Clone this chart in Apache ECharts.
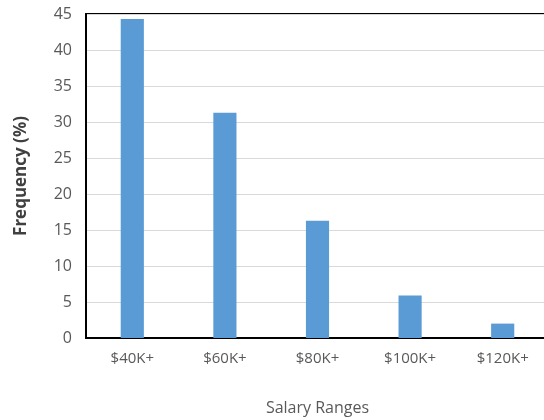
<!DOCTYPE html>
<html>
<head>
<meta charset="utf-8">
<script src="https://cdn.jsdelivr.net/npm/echarts@6/dist/echarts.min.js"></script>
<style>
  html, body { margin: 0; padding: 0; background: #fff; }
  #chart { width: 544px; height: 420px; }
</style>
</head>
<body>
<div id="chart"></div>
<script>
const categories = ['$40K+', '$60K+', '$80K+', '$100K+', '$120K+'];
const frequency = [44.3, 31.3, 16.3, 5.9, 2.0];
const yTicks = [0, 5, 10, 15, 20, 25, 30, 35, 40, 45];

const chart = echarts.init(document.getElementById('chart'), null, { renderer: 'canvas' });

const fontFamily = 'Open Sans, Liberation Sans, sans-serif';

chart.setOption({
  animation: false,
  backgroundColor: '#fff',
  grid: {
    left: 86, top: 14, right: -5, bottom: 82,
    outerBoundsMode: 'none',
    containLabel: false,
    show: true,
    borderColor: '#000',
    borderWidth: 2
  },
  xAxis: {
    type: 'category',
    data: categories,
    name: 'Salary Ranges',
    nameLocation: 'middle',
    nameGap: 62,
    nameTextStyle: { color: '#595959', fontSize: 16, fontFamily },
    axisLine: { show: true, lineStyle: { color: '#000', width: 2 } },
    axisTick: { show: false },
    axisLabel: { color: '#595959', fontSize: 15, margin: 13, fontFamily },
  },
  yAxis: {
    type: 'value',
    min: yTicks[0],
    max: yTicks[yTicks.length - 1],
    interval: 5,
    name: 'Frequency (%)',
    nameLocation: 'middle',
    nameGap: 56,
    nameTextStyle: { color: '#404040', fontSize: 17, fontWeight: 'bold', fontFamily },
    axisLine: { show: true, lineStyle: { color: '#000', width: 2 } },
    axisTick: { show: false },
    axisLabel: { color: '#595959', fontSize: 16, margin: 14, fontFamily },
    splitLine: { lineStyle: { color: '#d9d9d9', width: 1 } }
  },
  series: [{
    type: 'bar',
    data: frequency,
    barWidth: '25%',
    itemStyle: { color: '#5b9bd5' }
  }]
});
</script>
</body>
</html>
